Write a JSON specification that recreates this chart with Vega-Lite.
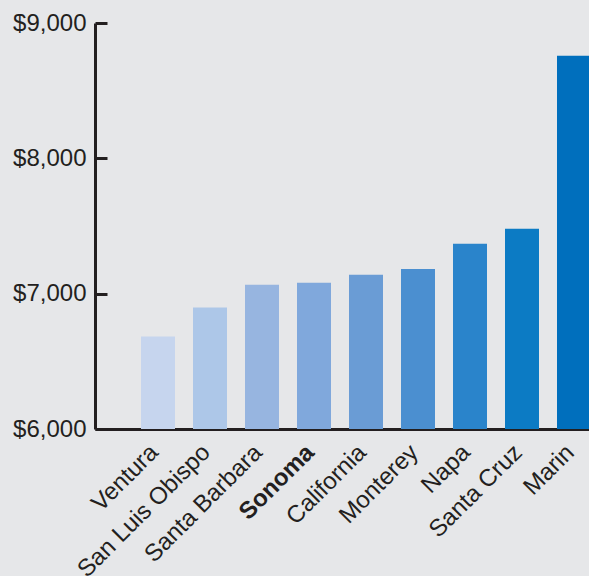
{
  "$schema": "https://vega.github.io/schema/vega-lite/v6.json",
  "width": 494,
  "height": 406,
  "autosize": {"type": "none"},
  "padding": {"left": 95, "top": 23, "right": 0, "bottom": 147},
  "background": "#e6e7e9",
  "config": {
    "view": {"stroke": null},
    "font": "Liberation Sans",
    "axis": {"labelFont": "Liberation Sans", "labelColor": "#231f20", "domainColor": "#231f20", "tickColor": "#231f20", "grid": false, "title": null}
  },
  "data": {
    "values": [
      {"region": "Ventura", "cost": 6683},
      {"region": "San Luis Obispo", "cost": 6897},
      {"region": "Santa Barbara", "cost": 7065},
      {"region": "Sonoma", "cost": 7080},
      {"region": "California", "cost": 7140},
      {"region": "Monterey", "cost": 7183},
      {"region": "Napa", "cost": 7368},
      {"region": "Santa Cruz", "cost": 7480},
      {"region": "Marin", "cost": 8758}
    ]
  },
  "mark": {"type": "bar"},
  "encoding": {
    "x": {
      "field": "region",
      "type": "nominal",
      "sort": null,
      "scale": {"range": [0, 542], "paddingInner": 0.3462, "paddingOuter": 0.8846},
      "axis": {
        "labelAngle": -45,
        "labelFontSize": 24,
        "labelPadding": 11,
        "labelOffset": -12,
        "ticks": false,
        "domainWidth": 3,
        "labelFontWeight": {"condition": {"test": "datum.value == 'Sonoma'", "value": "bold"}, "value": "normal"}
      }
    },
    "y": {
      "field": "cost",
      "type": "quantitative",
      "scale": {"domain": [6000, 9000], "nice": false, "zero": false},
      "axis": {
        "values": [6000, 7000, 8000, 9000],
        "format": "$,.0f",
        "labelFontSize": 24,
        "domainWidth": 3,
        "tickWidth": 3,
        "tickSize": -12,
        "labelPadding": 21
      }
    },
    "y2": {"datum": 6000},
    "color": {
      "field": "region",
      "type": "nominal",
      "legend": null,
      "scale": {
        "domain": ["Ventura", "San Luis Obispo", "Santa Barbara", "Sonoma", "California", "Monterey", "Napa", "Santa Cruz", "Marin"],
        "range": ["#c6d5ee", "#adc7e8", "#97b5e0", "#80a8dc", "#6a9cd5", "#4b8fd0", "#2a84cb", "#0c7bc4", "#006fbd"]
      }
    }
  }
}
